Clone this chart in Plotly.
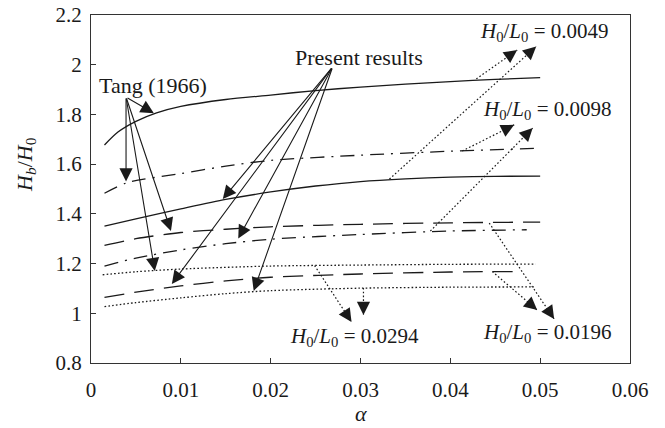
import math
import plotly.graph_objects as go

# ---------------- data ----------------
# Tang (1966)
tang_0049_x = [0.0015, 0.003, 0.005, 0.0073, 0.01, 0.015, 0.02, 0.025, 0.03, 0.035, 0.04, 0.045, 0.05]
tang_0049_y = [1.677, 1.729, 1.772, 1.806, 1.832, 1.860, 1.878, 1.896, 1.910, 1.922, 1.932, 1.941, 1.948]
tang_0098_x = [0.0015, 0.004, 0.01, 0.015, 0.02, 0.03, 0.04, 0.05]
tang_0098_y = [1.483, 1.525, 1.562, 1.592, 1.615, 1.636, 1.652, 1.664]
tang_0196_x = [0.0015, 0.005, 0.01, 0.015, 0.02, 0.03, 0.04, 0.05]
tang_0196_y = [1.273, 1.300, 1.325, 1.338, 1.348, 1.358, 1.364, 1.367]
tang_0294_x = [0.0013, 0.005, 0.01, 0.02, 0.03, 0.04, 0.0495]
tang_0294_y = [1.155, 1.167, 1.178, 1.190, 1.194, 1.197, 1.198]
# Present results
pres_0049_x = [0.0015, 0.005, 0.01, 0.015, 0.02, 0.025, 0.03, 0.035, 0.04, 0.045, 0.05]
pres_0049_y = [1.351, 1.380, 1.420, 1.458, 1.488, 1.512, 1.530, 1.541, 1.548, 1.551, 1.552]
pres_0098_x = [0.0015, 0.005, 0.01, 0.015, 0.02, 0.03, 0.04, 0.0485]
pres_0098_y = [1.190, 1.222, 1.255, 1.280, 1.298, 1.317, 1.331, 1.336]
pres_0196_x = [0.0015, 0.005, 0.01, 0.015, 0.02, 0.03, 0.04, 0.048]
pres_0196_y = [1.064, 1.085, 1.110, 1.130, 1.145, 1.158, 1.166, 1.168]
pres_0294_x = [0.0015, 0.005, 0.01, 0.015, 0.02, 0.03, 0.04, 0.0493]
pres_0294_y = [1.027, 1.043, 1.062, 1.079, 1.091, 1.101, 1.105, 1.106]

x_ticks = [0, 0.01, 0.02, 0.03, 0.04, 0.05, 0.06]
y_ticks = [0.8, 1, 1.2, 1.4, 1.6, 1.8, 2, 2.2]

# annotation anchor points (data coords)
tang_origin = (0.0039, 1.870)
tang_tips = [(0.0070, 1.805), (0.0039, 1.530), (0.0089, 1.331), (0.0071, 1.170)]
pres_origin = (0.0269, 1.991)
pres_tips = [(0.01467, 1.460), (0.0090, 1.118), (0.01639, 1.301), (0.01811, 1.090)]
dotted_arrows = [  # (start, tip)
    ((0.04289, 1.943), (0.04744, 2.059)),
    ((0.03322, 1.540), (0.04956, 2.073)),
    ((0.04133, 1.653), (0.04711, 1.758)),
    ((0.03778, 1.331), (0.04917, 1.745)),
    ((0.04433, 1.363), (0.05156, 0.977)),
    ((0.04467, 1.168), (0.04967, 1.013)),
    ((0.02489, 1.192), (0.02900, 0.965)),
    ((0.03033, 1.102), (0.03033, 0.993)),
]
labels = [
    ("Present results", 0.02978, 2.031, 22),
    ("Tang (1966)", 0.00689, 1.918, 22),
    ("<i>H</i><sub>0</sub>/<i>L</i><sub>0</sub> = 0.0049", 0.05044, 2.132, 21),
    ("<i>H</i><sub>0</sub>/<i>L</i><sub>0</sub> = 0.0098", 0.05078, 1.818, 21),
    ("<i>H</i><sub>0</sub>/<i>L</i><sub>0</sub> = 0.0294", 0.02933, 0.905, 21),
    ("<i>H</i><sub>0</sub>/<i>L</i><sub>0</sub> = 0.0196", 0.05078, 0.921, 21),
]

# ---------------- figure ----------------
W, H = 665, 428
ML, MR, MT, MB = 91, 35, 15, 65
XR = [0, 0.06]
YR = [0.8, 2.2]
px_x = (W - ML - MR) / (XR[1] - XR[0])
px_y = (H - MT - MB) / (YR[1] - YR[0])

FONT = "Liberation Serif, Times New Roman, serif"
INK = "#1a1a1a"
LW = 1.3
LONGDASH = "20px,10px"
DASHDOT = "14px,7px,2px,7px"
DOT = "1.6px,2.2px"
HEAD = 2.4

series = [
    (tang_0049_x, tang_0049_y, "solid"),
    (tang_0098_x, tang_0098_y, DASHDOT),
    (tang_0196_x, tang_0196_y, LONGDASH),
    (tang_0294_x, tang_0294_y, DOT),
    (pres_0049_x, pres_0049_y, "solid"),
    (pres_0098_x, pres_0098_y, DASHDOT),
    (pres_0196_x, pres_0196_y, LONGDASH),
    (pres_0294_x, pres_0294_y, DOT),
]

fig = go.Figure()
for xs, ys, dash in series:
    fig.add_trace(go.Scatter(x=xs, y=ys, mode="lines",
                             line=dict(color=INK, width=LW, dash=dash, shape="spline", smoothing=0.8),
                             showlegend=False, hoverinfo="skip"))

annotations = []
shapes = []

def solid_arrow(origin, tip):
    annotations.append(dict(x=tip[0], y=tip[1], ax=origin[0], ay=origin[1],
                            xref="x", yref="y", axref="x", ayref="y", text="",
                            showarrow=True, arrowhead=2, arrowsize=HEAD, arrowwidth=1.1,
                            arrowcolor=INK, standoff=0))

for t in tang_tips:
    solid_arrow(tang_origin, t)
for t in pres_tips:
    solid_arrow(pres_origin, t)

for (s, t) in dotted_arrows:
    shapes.append(dict(type="line", xref="x", yref="y", x0=s[0], y0=s[1], x1=t[0], y1=t[1],
                       line=dict(color=INK, width=1.2, dash=DOT)))
    dxp = (t[0] - s[0]) * px_x
    dyp = -(t[1] - s[1]) * px_y
    n = math.hypot(dxp, dyp)
    annotations.append(dict(x=t[0], y=t[1], ax=-dxp / n * 10, ay=-dyp / n * 10,
                            xref="x", yref="y", text="", showarrow=True,
                            arrowhead=2, arrowsize=HEAD, arrowwidth=1.1,
                            arrowcolor=INK, standoff=0))

for txt, x, y, fs in labels:
    annotations.append(dict(x=x, y=y, xref="x", yref="y", text=txt, showarrow=False,
                            font=dict(family=FONT, size=fs, color=INK),
                            xanchor="center", yanchor="middle"))

# axis titles
annotations.append(dict(x=-0.122, y=0.57, xref="paper", yref="paper", textangle=-90,
                        text="<i>H<sub>b</sub></i>/<i>H</i><sub>0</sub>", showarrow=False,
                        font=dict(family=FONT, size=22, color=INK),
                        xanchor="center", yanchor="middle"))
annotations.append(dict(x=0.5, y=-0.146, xref="paper", yref="paper",
                        text="<i>α</i>", showarrow=False,
                        font=dict(family=FONT, size=22, color=INK),
                        xanchor="center", yanchor="middle"))

axis_common = dict(showgrid=False, zeroline=False, showline=True, mirror=True,
                   linecolor="#333", linewidth=1.3, ticks="inside", ticklen=5,
                   tickwidth=1.2, tickcolor="#333", automargin=False,
                   tickfont=dict(family=FONT, size=21, color=INK))

fig.update_layout(
    width=W, height=H,
    margin=dict(l=ML, r=MR, t=MT, b=MB),
    paper_bgcolor="white", plot_bgcolor="white",
    xaxis=dict(range=XR, tickvals=x_ticks, ticktext=[f"{v:g}" for v in x_ticks],
               ticklabelstandoff=8, **axis_common),
    yaxis=dict(range=YR, tickvals=y_ticks, ticktext=[f"{v:g}" for v in y_ticks],
               ticklabelstandoff=4, **axis_common),
    annotations=annotations,
    shapes=shapes,
)

fig.write_html("out.html")
